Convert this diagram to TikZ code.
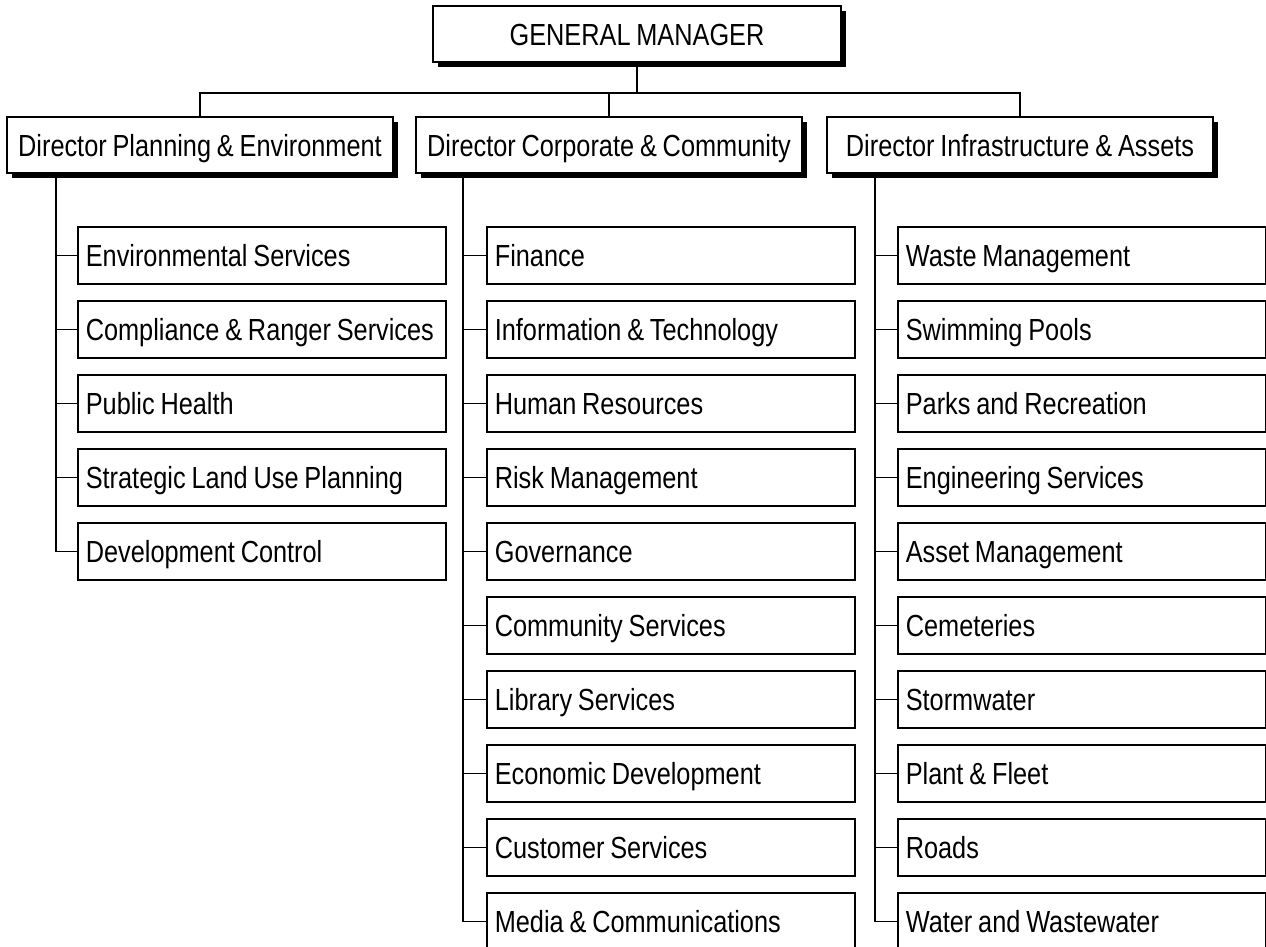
\documentclass[tikz,border=0pt]{standalone}
\usepackage{fontspec}
\setmainfont{Liberation Sans}[FakeStretch=0.83, WordSpace=0.83]
\usetikzlibrary{shadows}

\tikzset{
  wire/.style={line width=1.6pt, line cap=rect},
  boxbase/.style={draw, line width=1.6pt, fill=white, inner sep=0pt,
    font=\fontsize{30.5}{36}\selectfont, text height=22pt, text depth=0pt},
  topbox/.style={boxbase, minimum width=408pt, minimum height=56pt,
    drop shadow={shadow xshift=4.5pt, shadow yshift=-4.5pt, fill=black, opacity=1}},
  dirbox/.style={boxbase, minimum width=386pt, minimum height=56pt,
    drop shadow={shadow xshift=4.5pt, shadow yshift=-4.5pt, fill=black, opacity=1}},
  unitbox/.style={boxbase, anchor=west, minimum height=57pt, inner xsep=8pt},
}
% unit label, left aligned inside a box of fixed width
\newcommand{\unitlabel}[1]{\makebox[352pt][l]{#1}}

\begin{document}
\begin{tikzpicture}[x=1pt, y=-1pt]
  \useasboundingbox (0,0) rectangle (1266,946);

  % general manager and directors
  \node[topbox] (gm) at (637,34) {GENERAL MANAGER};
  \node[dirbox] (d1) at (200,145) {Director Planning \& Environment};
  \node[dirbox] (d2) at (609,145) {Director Corporate \& Community};
  \node[dirbox] (d3) at (1020,145) {Director Infrastructure \& Assets};

  % bus from the general manager to the directors
  \coordinate (bus) at (637,93);
  \draw[wire] (gm.south) -- (bus);
  \draw[wire] (d1.north) |- (bus) -| (d3.north);
  \draw[wire] (d2.north) -- (d2.north |- bus);

  % trunks below each director
  \coordinate (t1) at ([xshift=50pt]d1.south west);
  \coordinate (t2) at ([xshift=48pt]d2.south west);
  \coordinate (t3) at ([xshift=49pt]d3.south west);

  % Planning & Environment units
  \foreach \lbl [count=\i] in {Environmental Services, Compliance \& Ranger Services,
      Public Health, Strategic Land Use Planning, Development Control} {
    \node[unitbox] (a\i) at (77,{255.5+74*(\i-1)}) {\unitlabel{\lbl}};
    \draw[wire] (a\i.west) -- (t1 |- a\i.west);
  }
  \draw[wire] (t1) -- (t1 |- a5.west);

  % Corporate & Community units
  \foreach \lbl [count=\i] in {Finance, Information \& Technology, Human Resources,
      Risk Management, Governance, Community Services, Library Services,
      Economic Development, Customer Services, Media \& Communications} {
    \node[unitbox] (b\i) at (486,{255.5+74*(\i-1)}) {\unitlabel{\lbl}};
    \draw[wire] (b\i.west) -- (t2 |- b\i.west);
  }
  \draw[wire] (t2) -- (t2 |- b10.west);

  % Infrastructure & Assets units
  \foreach \lbl [count=\i] in {Waste Management, Swimming Pools, Parks and Recreation,
      Engineering Services, Asset Management, Cemeteries, Stormwater,
      Plant \& Fleet, Roads, Water and Wastewater} {
    \node[unitbox] (c\i) at (897,{255.5+74*(\i-1)}) {\unitlabel{\lbl}};
    \draw[wire] (c\i.west) -- (t3 |- c\i.west);
  }
  \draw[wire] (t3) -- (t3 |- c10.west);
\end{tikzpicture}
\end{document}
